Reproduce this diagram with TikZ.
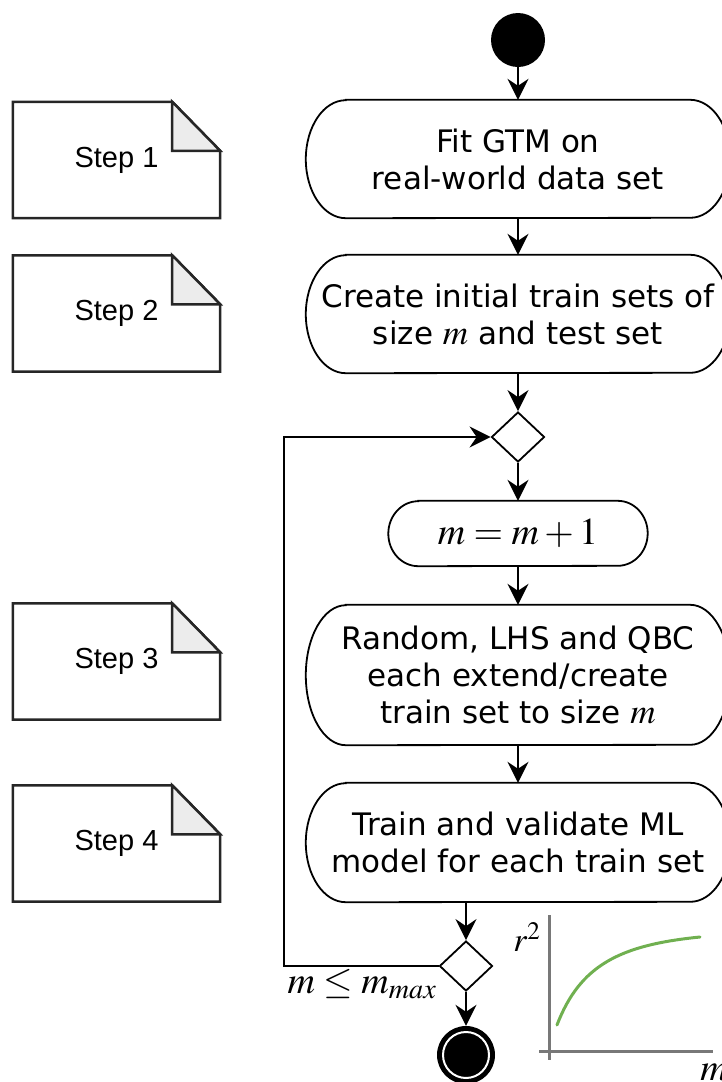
\documentclass[tikz,border=0pt]{standalone}
\usepackage{mathptmx}
\usepackage[no-math]{fontspec}
\setmainfont{DejaVu Sans}
\newfontfamily\notefont{Liberation Sans}
\usetikzlibrary{shapes.geometric,arrows.meta,calc}
\definecolor{foldgray}{RGB}{236,236,236}
\definecolor{axisgray}{RGB}{120,120,120}
\definecolor{curvegreen}{RGB}{112,176,80}
\newcommand\mvar{{\fontsize{35}{37}\selectfont$m$}}
\newcommand\stad[3]{\draw[nodeline] ([xshift=#2]#1.north west) -- ([xshift=-#2]#1.north east) arc[start angle=90,end angle=-90,x radius=#2,y radius=#3] -- ([xshift=#2]#1.south west) arc[start angle=270,end angle=90,x radius=#2,y radius=#3] -- cycle;}
\newcommand\drawnote[1]{%
  \draw[noteline] (#1.north west) -- ([xshift=-48pt]#1.north east) -- ([yshift=-49pt]#1.north east) -- (#1.south east) -- (#1.south west) -- cycle;
  \draw[noteline, fill=foldgray] ([xshift=-48pt]#1.north east) -- ([xshift=-48pt,yshift=-49pt]#1.north east) -- ([yshift=-49pt]#1.north east) -- cycle;}
\tikzset{
  act/.style={draw=none, minimum width=424pt, inner sep=0pt, align=center, font=\fontsize{31}{37}\selectfont},
  nodeline/.style={draw=black, line width=1.8pt},
  noteline/.style={draw=black!85, line width=2.5pt, line join=miter},
  arr/.style={line width=1.8pt, -{Stealth[length=21pt,width=21pt,inset=7pt]}},
  dec/.style={diamond, draw, line width=1.8pt, minimum width=53pt, minimum height=50pt, inner sep=0pt},
  notebox/.style={minimum width=207pt, minimum height=116pt, inner sep=0pt, font=\notefont\fontsize{29}{34}\selectfont},
  mathlbl/.style={inner sep=0pt, font=\fontsize{38}{40}\selectfont},
  axisline/.style={draw=axisgray, line width=3pt},
}
\begin{document}
\begin{tikzpicture}[x=1pt,y=-1pt]
\useasboundingbox (0,0) rectangle (721,1082);
% notes
\node[notebox] (s1) at (116.5,160) {Step 1};
\node[notebox] (s2) at (116.5,313.5) {Step 2};
\node[notebox] (s3) at (116.5,661.5) {Step 3};
\node[notebox] (s4) at (116.5,843.5) {Step 4};
\drawnote{s1}\drawnote{s2}\drawnote{s3}\drawnote{s4}
% flow
\node[circle, fill=black, minimum size=54pt, inner sep=0pt] (start) at (518,40) {};
\node[act, minimum height=118pt] (n1) at (518,159) {Fit GTM on\\real-world data set};
\node[act, minimum height=118pt] (n2) at (518,314) {Create initial train sets of\\size \mvar{} and test set};
\node[dec] (d1) at (518,437) {};
\node[act, minimum width=259pt, minimum height=65pt, font=\fontsize{38}{40}\selectfont] (inc) at (518,533.5) {$m=m+1$};
\node[act, minimum height=140pt] (n3) at (518,675) {Random, LHS and QBC\\each extend/create\\train set to size \mvar};
\node[act, minimum height=119pt] (n4) at (518,842.5) {Train and validate ML\\model for each train set};
\node[dec] (d2) at (466,966) {};
\node[circle, fill=black, minimum size=58pt, inner sep=0pt] (end) at (466,1055) {};
\draw[white, line width=2pt] (end.center) circle (23pt);
\stad{n1}{40pt}{59pt}
\stad{n2}{40pt}{59pt}
\stad{inc}{30pt}{32.5pt}
\stad{n3}{40pt}{70pt}
\stad{n4}{40pt}{59.5pt}
% connectors
\draw[arr] (start) -- (n1);
\draw[arr] (n1) -- (n2);
\draw[arr] (n2) -- (d1);
\draw[arr] (d1) -- (inc);
\draw[arr] (inc) -- (n3);
\draw[arr] (n3) -- (n4);
\draw[arr] (d2 |- n4.south) -- (d2.north);
\draw[arr] (d2) -- (end);
\coordinate (lp) at (284,0);
\draw[arr] (d2.west) -- (d2.west -| lp) -- (d1.west -| lp) -- (d1.west);
\node[mathlbl] (cond) at (362,984) {$m \leq m_{max}$};
% small graph
\draw[axisline] (539,1051) -- (713,1051);
\draw[axisline] (549,915) -- (549,1060);
\draw[draw=curvegreen, line width=3pt, line cap=round] (557,1025) .. controls (580,965) and (620,945) .. (700,937);
\node[inner sep=0pt, font=\fontsize{34}{36}\selectfont] (ry) at (527,937) {$r^2$};
\node[inner sep=0pt, font=\fontsize{38}{40}\selectfont] (mx) at (714,1072) {$m$};
\end{tikzpicture}
\end{document}
